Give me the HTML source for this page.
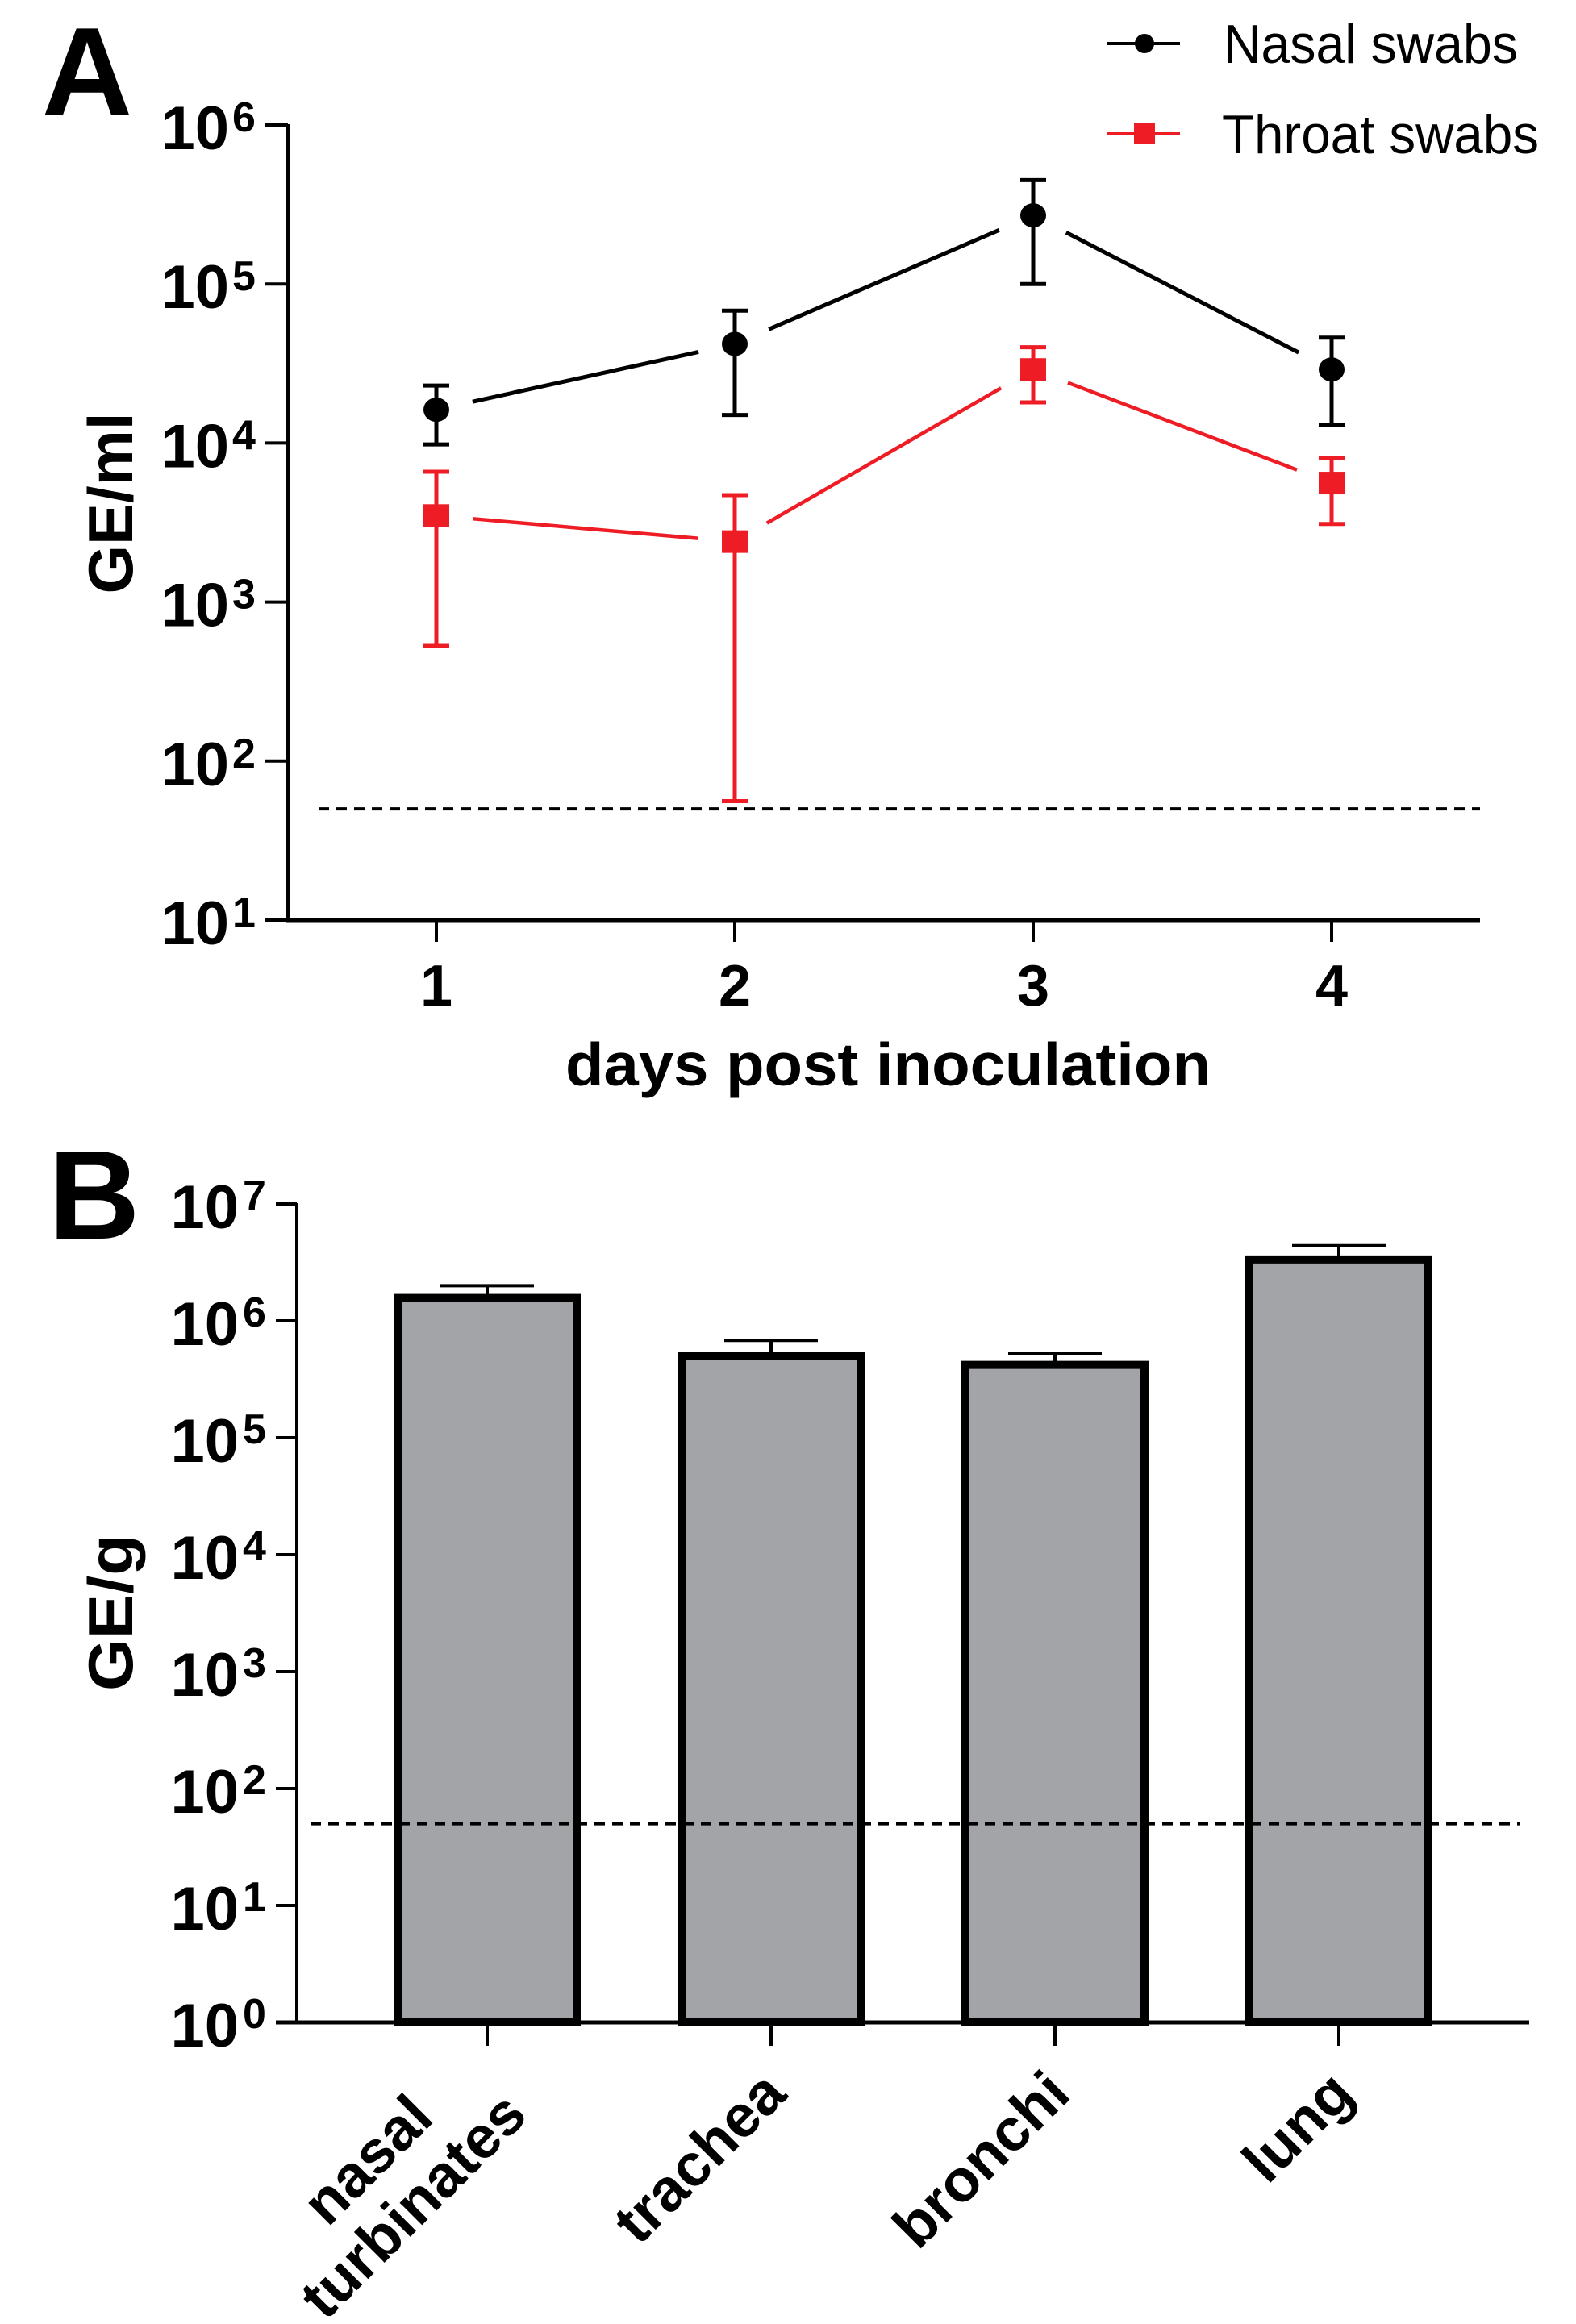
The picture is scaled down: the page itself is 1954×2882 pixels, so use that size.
<!DOCTYPE html>
<html><head><meta charset="utf-8"><style>
html,body{margin:0;padding:0;background:#fff;}
svg{display:block;font-family:"Liberation Sans",sans-serif;}
</style></head><body>
<svg id="fig" width="1954" height="2882" viewBox="0 0 1954 2882" xmlns="http://www.w3.org/2000/svg">
<text x="52" y="142" font-size="155" font-weight="bold">A</text>
<text x="60" y="1536" font-size="157" font-weight="bold">B</text>
<g id="pa"></g>
<g id="pb"></g>
</svg>
<script>
// ---------- Panel A data ----------
const daysA = [1, 2, 3, 4];
const nasalMean = [16200, 42000, 270000, 29000];
const nasalUpper = [23000, 68000, 450000, 46000];
const nasalLower = [9800, 15000, 100000, 13000];
const throatMean = [3500, 2400, 29000, 5600];
const throatUpper = [6600, 4700, 40000, 8100];
const throatLower = [530, 56, 18000, 3100];
const ticksA = [1, 2, 3, 4, 5, 6];
const detectionLimitA = 50;
// ---------- Panel B data ----------
const tissues = [["nasal", "turbinates"], ["trachea"], ["bronchi"], ["lung"]];
const tissueMean = [1570000, 500000, 420000, 3350000];
const tissueUpper = [2000000, 680000, 530000, 4400000];
const ticksB = [0, 1, 2, 3, 4, 5, 6, 7];
const detectionLimitB = 50;

const NS = "http://www.w3.org/2000/svg";
function mk(parent, tag, attrs, text) {
  const e = document.createElementNS(NS, tag);
  for (const k in attrs) e.setAttribute(k, attrs[k]);
  if (text !== undefined) e.textContent = text;
  parent.appendChild(e);
  return e;
}
const pa = document.getElementById('pa');
const pb = document.getElementById('pb');

// ===== Panel A scales =====
const xA = d => 541 + (d - 1) * 370;
const yA = v => 1141 - (Math.log10(v) - 1) * 197.2;

let e;
e = mk(pa, 'line', {x1: 357, y1: yA(1e6) - 1, x2: 357, y2: 1143, stroke: '#000', 'stroke-width': 4});


e = mk(pa, 'line', {x1: 355, y1: 1141, x2: 1835, y2: 1141, stroke: '#000', 'stroke-width': 5});


ticksA.forEach(p => {
  const y = yA(Math.pow(10, p));
  e = mk(pa, 'line', {x1: 328, y1: y, x2: 357, y2: y, stroke: '#000', 'stroke-width': 4});
  
  
  e = mk(pa, 'text', {x: 284, y: y + 30, 'font-size': 76, 'font-weight': 'bold', 'text-anchor': 'end'}, '10');
  
  
  e = mk(pa, 'text', {x: 288, y: y + 8, 'font-size': 52, 'font-weight': 'bold'}, String(p));
  
  
});
daysA.forEach(d => {
  const x = xA(d);
  e = mk(pa, 'line', {x1: x, y1: 1141, x2: x, y2: 1168, stroke: '#000', 'stroke-width': 4});
  
  
  e = mk(pa, 'text', {x: x, y: 1247, 'font-size': 72, 'font-weight': 'bold', 'text-anchor': 'middle'}, String(d));
  
  
});
e = mk(pa, 'text', {x: 1101, y: 1346, 'font-size': 75, 'font-weight': 'bold', 'text-anchor': 'middle', textLength: 800, lengthAdjust: 'spacingAndGlyphs'}, 'days post inoculation');


e = mk(pa, 'text', {x: 0, y: 0, 'font-size': 78, 'font-weight': 'bold', 'text-anchor': 'middle', transform: 'translate(164,624) rotate(-90)', textLength: 225, lengthAdjust: 'spacingAndGlyphs'}, 'GE/ml');


e = mk(pa, 'line', {x1: 395, y1: yA(detectionLimitA), x2: 1835, y2: yA(detectionLimitA), stroke: '#000', 'stroke-width': 4, 'stroke-dasharray': '13 9'});



function series(mean, up, lo, color, marker, name, lw) {
  for (let i = 0; i < mean.length - 1; i++) {
    const x1 = xA(daysA[i]), y1 = yA(mean[i]), x2 = xA(daysA[i + 1]), y2 = yA(mean[i + 1]);
    const L = Math.hypot(x2 - x1, y2 - y1), g = 46;
    const ux = (x2 - x1) / L, uy = (y2 - y1) / L;
    e = mk(pa, 'line', {x1: x1 + ux * g, y1: y1 + uy * g, x2: x2 - ux * g, y2: y2 - uy * g, stroke: color, 'stroke-width': lw});
    
    
  }
  mean.forEach((m, i) => {
    const x = xA(daysA[i]);
    e = mk(pa, 'path', {d: `M${x - 16},${yA(up[i])}H${x + 16}M${x},${yA(up[i])}V${yA(lo[i])}M${x - 16},${yA(lo[i])}H${x + 16}`, stroke: color, 'stroke-width': 5, fill: 'none'});
    
    
    if (marker === 'circle') {
      e = mk(pa, 'ellipse', {cx: x, cy: yA(m), rx: 16, ry: 15, fill: color});
    } else {
      e = mk(pa, 'rect', {x: x - 16, y: yA(m) - 14, width: 32, height: 28, fill: color});
    }
    
    
  });
}
series(nasalMean, nasalUpper, nasalLower, '#000', 'circle', 'nasal-swabs', 5);
series(throatMean, throatUpper, throatLower, '#ee1c25', 'square', 'throat-swabs', 4.5);

e = mk(pa, 'line', {x1: 1373, y1: 54, x2: 1463, y2: 54, stroke: '#000', 'stroke-width': 4});


e = mk(pa, 'ellipse', {cx: 1419, cy: 54, rx: 12, ry: 12, fill: '#000'});


e = mk(pa, 'text', {x: 1517, y: 78, 'font-size': 68, textLength: 365, lengthAdjust: 'spacingAndGlyphs'}, 'Nasal swabs');


e = mk(pa, 'line', {x1: 1373, y1: 166, x2: 1463, y2: 166, stroke: '#ee1c25', 'stroke-width': 4});


e = mk(pa, 'rect', {x: 1406, y: 153, width: 26, height: 26, fill: '#ee1c25'});


e = mk(pa, 'text', {x: 1515, y: 190, 'font-size': 68, textLength: 393, lengthAdjust: 'spacingAndGlyphs'}, 'Throat swabs');



// ===== Panel B =====
const xB = i => 604 + i * 352;
const yB = v => 2508 - Math.log10(v) * 145;
const barW = 222;

tissueMean.forEach((m, i) => {
  const x = xB(i);
  e = mk(pb, 'path', {d: `M${x},${yB(m)}V${yB(tissueUpper[i])}M${x - 58},${yB(tissueUpper[i])}H${x + 58}`, stroke: '#000', 'stroke-width': 4, fill: 'none'});
  
  
  e = mk(pb, 'rect', {x: x - barW / 2, y: yB(m), width: barW, height: 2508 - yB(m), fill: '#a3a4a8', stroke: '#000', 'stroke-width': 10});
  
  
});
e = mk(pb, 'line', {x1: 385, y1: yB(detectionLimitB), x2: 1885, y2: yB(detectionLimitB), stroke: '#000', 'stroke-width': 4, 'stroke-dasharray': '13 9'});


e = mk(pb, 'line', {x1: 368, y1: yB(1e7) - 1, x2: 368, y2: 2510, stroke: '#000', 'stroke-width': 4});


e = mk(pb, 'line', {x1: 342, y1: 2508, x2: 1896, y2: 2508, stroke: '#000', 'stroke-width': 5});


ticksB.forEach(p => {
  const y = yB(Math.pow(10, p));
  e = mk(pb, 'line', {x1: 342, y1: y, x2: 368, y2: y, stroke: '#000', 'stroke-width': 4});
  
  
  e = mk(pb, 'text', {x: 296, y: y + 30, 'font-size': 76, 'font-weight': 'bold', 'text-anchor': 'end'}, '10');
  
  
  e = mk(pb, 'text', {x: 301, y: y + 7, 'font-size': 52, 'font-weight': 'bold'}, String(p));
  
  
});
tissues.forEach((lines, i) => {
  const x = xB(i);
  e = mk(pb, 'line', {x1: x, y1: 2508, x2: x, y2: 2537, stroke: '#000', 'stroke-width': 4});
  
  
  const g = mk(pb, 'g', {transform: `translate(${x + 22},2600) rotate(-45)`});
  
  
  if (lines.length === 1) {
    mk(g, 'text', {x: 0, y: 0, 'font-size': 74, 'font-weight': 'bold', 'text-anchor': 'end'}, lines[0]);
  } else {
    mk(g, 'text', {x: -176, y: -40, 'font-size': 74, 'font-weight': 'bold', 'text-anchor': 'middle'}, lines[0]);
    mk(g, 'text', {x: -176, y: 40, 'font-size': 74, 'font-weight': 'bold', 'text-anchor': 'middle'}, lines[1]);
  }
});
e = mk(pb, 'text', {x: 0, y: 0, 'font-size': 78, 'font-weight': 'bold', 'text-anchor': 'middle', transform: 'translate(164,2000) rotate(-90)', textLength: 194, lengthAdjust: 'spacingAndGlyphs'}, 'GE/g');


</script>
</body></html>
